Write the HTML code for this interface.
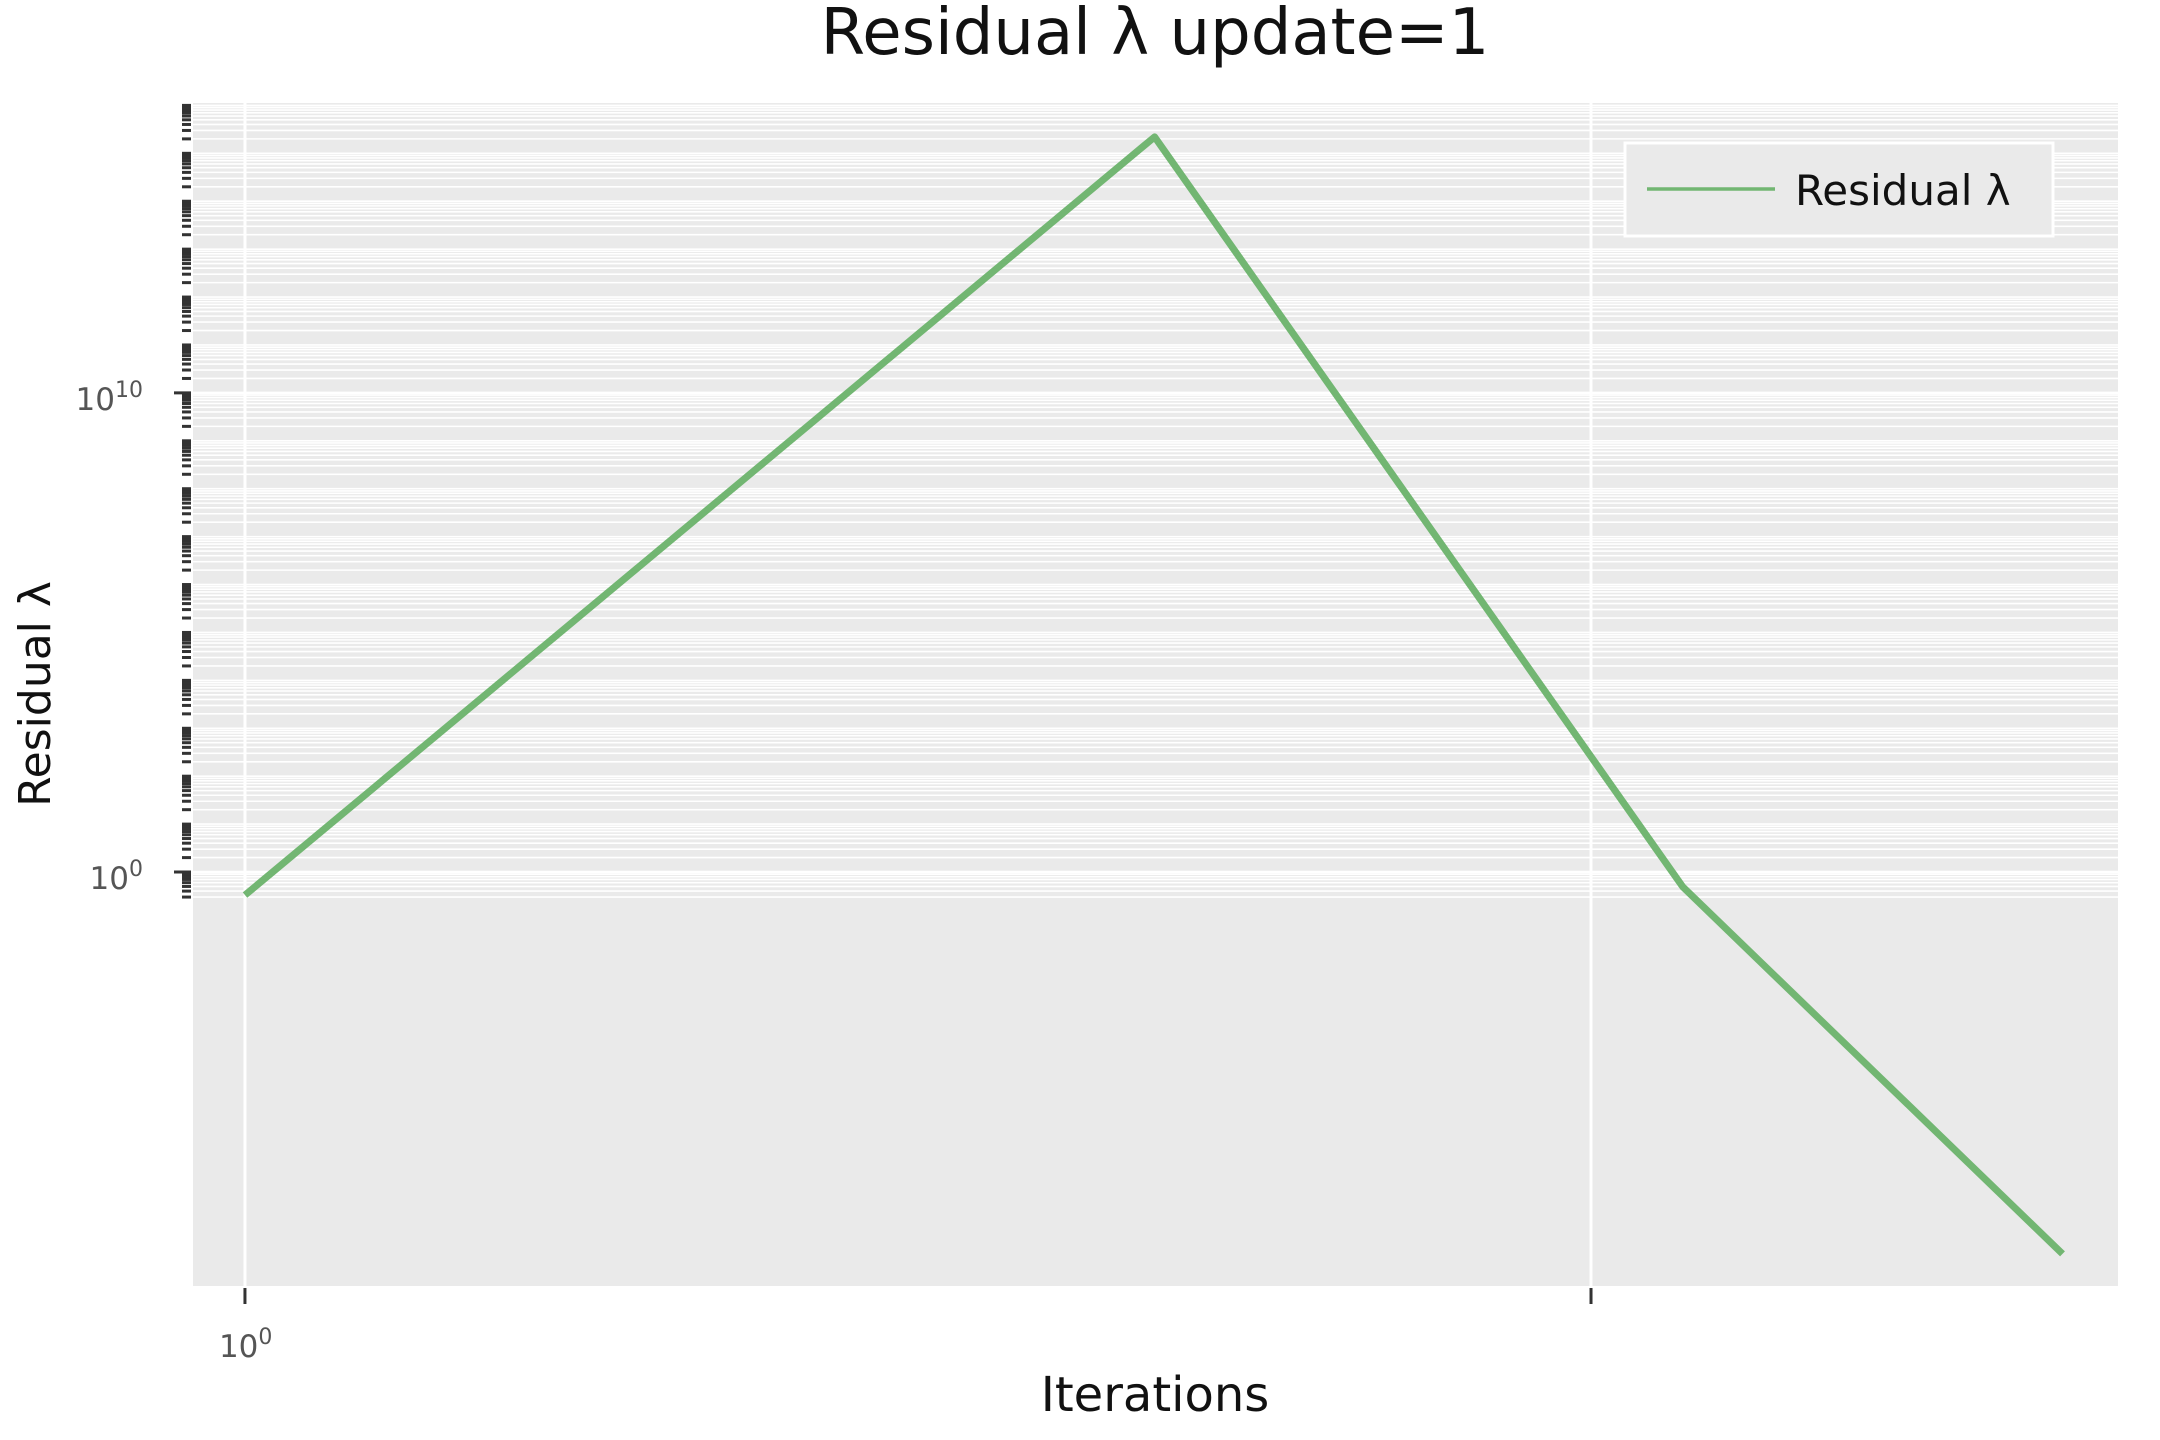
<!DOCTYPE html>
<html><head><meta charset="utf-8"><style>
html,body{margin:0;padding:0;background:#fff;}
svg{display:block;font-family:"DejaVu Sans","Liberation Sans",sans-serif;}
</style></head><body>
<svg id="chart" width="2160" height="1440" viewBox="0 0 2160 1440">
  <text x="1155" y="54" font-size="64" text-anchor="middle" fill="#111">Residual λ update=1</text>
  <rect x="193" y="103" width="1925" height="1183" fill="#eaeaea"/>
  <g id="grid"></g>
  <g id="ticks"></g>
  <g id="series"></g>
  <text x="1155" y="1411" font-size="48" text-anchor="middle" fill="#111">Iterations</text>
  <text transform="translate(50,694) rotate(-90)" font-size="44" text-anchor="middle" fill="#111">Residual λ</text>
  <g>
    <rect x="1625" y="143" width="428" height="93" fill="#eaeaea" stroke="#fff" stroke-width="3"/>
    <line x1="1647" y1="189" x2="1775" y2="189" stroke="#72b672" stroke-width="3.5"/>
    <text x="1795" y="205" font-size="42" fill="#111">Residual λ</text>
  </g>
</svg>
<script>
const iterations = [1, 4.74, 11.7, 22.4];
const residual = [0.33, 2.2e15, 0.49, 1.07e-8];
const yMajorTicks = [0, 10];
const xMajorTicks = [0, 1];
const xTickLabels = ["0", ""];

const L = 193, R = 2118, T = 103, B = 1286;
const xLogMin = -0.0386, xLogMax = 1.3915;
const yLogMin = -8.64, yLogMax = 16.05;
function xs(v){ return L + (Math.log10(v) - xLogMin) / (xLogMax - xLogMin) * (R - L); }
function ys(v){ return B - (Math.log10(v) - yLogMin) / (yLogMax - yLogMin) * (B - T); }
function xsl(l){ return xs(Math.pow(10, l)); }
function ysl(l){ return ys(Math.pow(10, l)); }
const NS = "http://www.w3.org/2000/svg";
function mk(tag, attrs, parent){
  const e = document.createElementNS(NS, tag);
  for (const k in attrs) e.setAttribute(k, attrs[k]);
  parent.appendChild(e);
  return e;
}
const grid = document.getElementById('grid');
const ticks = document.getElementById('ticks');
const series = document.getElementById('series');

for (let k = -1; k <= 16; k++) {
  for (let m = 1; m <= 9; m++) {
    const v = m * Math.pow(10, k);
    const lv = Math.log10(v);
    if (lv < -0.55 || lv > yLogMax) continue;
    if (m === 1 && yMajorTicks.includes(k)) continue;
    const y = ys(v);
    const g = mk('line', {x1: L, x2: R, y1: y, y2: y, stroke: '#fff', 'stroke-width': 1.6}, grid);
    
    
    const t = mk('line', {x1: 182, x2: 191, y1: y, y2: y, stroke: '#333', 'stroke-width': 3}, ticks);
    
    
  }
}
yMajorTicks.forEach(function(p){
  const y = ysl(p);
  const g = mk('line', {x1: L, x2: R, y1: y, y2: y, stroke: '#fff', 'stroke-width': 2.5}, grid);
  
  
  const t = mk('line', {x1: 174, x2: 191, y1: y, y2: y, stroke: '#333', 'stroke-width': 3}, ticks);
  
  
  const tx = mk('text', {x: 143, y: y + 17, 'text-anchor': 'end', fill: '#555', 'font-size': 31}, ticks);
  
  
  const a = mk('tspan', {}, tx); a.textContent = '10';
  const b = mk('tspan', {dy: -13, 'font-size': 22}, tx); b.textContent = String(p);
});
xMajorTicks.forEach(function(p, i){
  const x = xsl(p);
  const g = mk('line', {x1: x, x2: x, y1: T, y2: B, stroke: '#fff', 'stroke-width': 3}, grid);
  
  
  const t = mk('line', {x1: x, x2: x, y1: 1288, y2: 1304, stroke: '#333', 'stroke-width': 3}, ticks);
  
  
  if (xTickLabels[i] !== '') {
    const tx = mk('text', {x: x - 26, y: 1357, fill: '#555', 'font-size': 31}, ticks);
    
    
    const a = mk('tspan', {}, tx); a.textContent = '10';
    const b = mk('tspan', {dy: -13, 'font-size': 22}, tx); b.textContent = xTickLabels[i];
  }
});
const pts = iterations.map(function(v, i){ return xs(v).toFixed(1) + ',' + ys(residual[i]).toFixed(1); }).join(' ');
const line = mk('polyline', {points: pts, fill: 'none', stroke: '#72b672', 'stroke-width': 7, 'stroke-linejoin': 'round'}, series);


</script>
</body></html>
